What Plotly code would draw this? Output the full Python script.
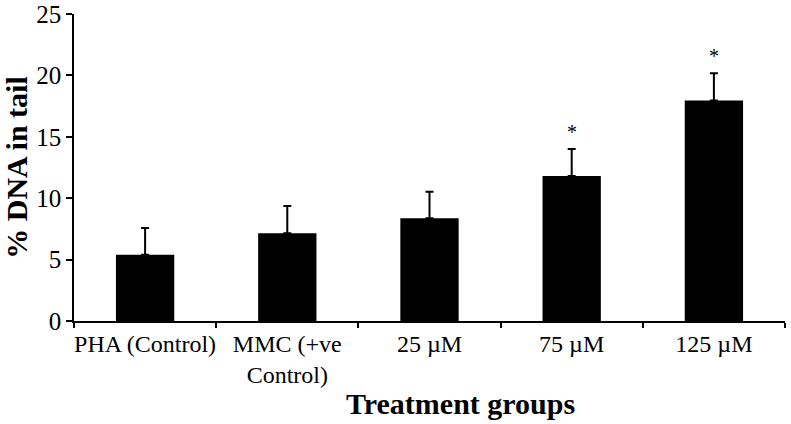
import plotly.graph_objects as go

categories = ["PHA (Control)", "MMC (+ve<br>Control)", "25 µM", "75 µM", "125 µM"]
means = [5.4, 7.14, 8.36, 11.81, 17.95]
sds = [2.17, 2.22, 2.17, 2.2, 2.22]
significance = ["", "", "", "*", "*"]
y_ticks = [0, 5, 10, 15, 20, 25]

FONT = "Liberation Serif, Times New Roman, serif"

fig = go.Figure()
fig.add_trace(go.Bar(
    x=categories, y=means,
    marker=dict(color="black", line=dict(width=0)),
    error_y=dict(type="data", array=sds, symmetric=False, arrayminus=[0]*len(sds),
                 color="black", thickness=2, width=4),
    showlegend=False,
))

for c, m, s, sig in zip(categories, means, sds, significance):
    if sig:
        fig.add_annotation(x=c, y=m + s, text=sig, showarrow=False,
                           yanchor="bottom", yshift=4,
                           font=dict(family=FONT, size=20, color="black"))

fig.add_annotation(x=0.5, xref="paper", xshift=31, y=-0.27, yref="paper",
                   yanchor="middle", text="<b>Treatment groups</b>", showarrow=False,
                   font=dict(family=FONT, size=30, color="black"))

fig.update_layout(
    width=791, height=424,
    margin=dict(l=74, r=6, t=14, b=103),
    paper_bgcolor="white", plot_bgcolor="white",
    bargap=0.59,
    font=dict(family=FONT, color="black"),
    xaxis=dict(
        automargin=False, tickangle=0,
        showline=True, linecolor="black", linewidth=1.5,
        ticks="outside", tickson="boundaries", ticklen=5, tickwidth=1.5, tickcolor="black",
        tickfont=dict(family=FONT, size=24, color="black"),
        showgrid=False, zeroline=False,
    ),
    yaxis=dict(
        automargin=False, ticklabeloverflow="allow",
        range=[0, 25], tickvals=y_ticks,
        showline=True, linecolor="black", linewidth=1.5,
        ticks="outside", ticklen=6, tickwidth=1.5, tickcolor="black",
        tickfont=dict(family=FONT, size=25, color="black"),
        showgrid=False, zeroline=False,
        title=dict(text="<b>% DNA in tail</b>", standoff=1,
                   font=dict(family=FONT, size=30, color="black")),
    ),
)

fig.write_html("out.html", config={"displayModeBar": False},
               post_script="document.body.style.margin='0';")
